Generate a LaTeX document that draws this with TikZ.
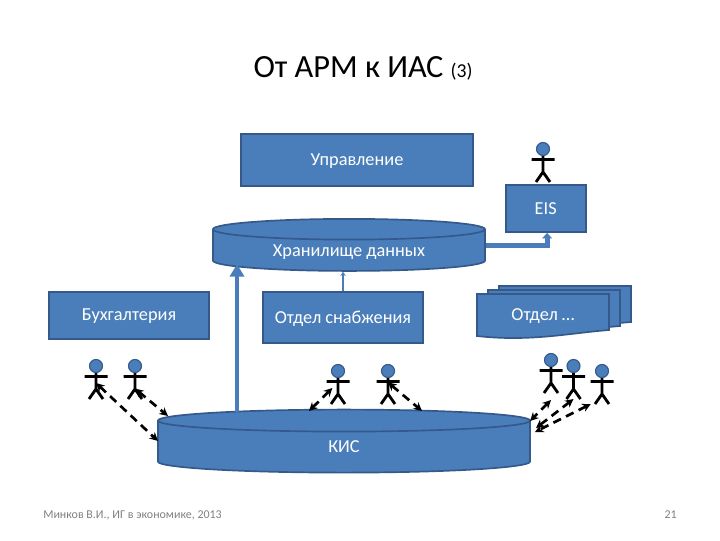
\documentclass[tikz,border=0pt]{standalone}
\usepackage{fontspec}
\setmainfont{Carlito}
\usepackage{xcolor}
\usepackage{tikz}
\usetikzlibrary{arrows.meta}
\usetikzlibrary{shapes.geometric}
\definecolor{blok}{HTML}{4A7EBB}
\definecolor{kant}{HTML}{34598A}
\begin{document}
\begin{tikzpicture}[
      x=0.025cm, y=-0.025cm,
      box/.style={draw=kant, line width=1.2pt, fill=blok, text=white, font=\fontsize{13}{15}\selectfont, inner sep=0pt, text depth=0pt},
      bochka/.style={box, cylinder, shape border rotate=90, cylinder uses custom fill, cylinder body fill=blok, cylinder end fill=blok},
      svyaz/.style={{Stealth[length=6pt,width=6pt]}-{Stealth[length=6pt,width=6pt]}, line width=1.9pt, dash pattern=on 6pt off 4pt},
      actor/.pic={
        \draw[black, line width=2pt] (-11.5,10.5) -- (11.5,10.5) (0,6) -- (0,23) (-7,33) -- (0,23) -- (7,33);
        \fill[blok] (0,0) circle (6.5);
        \draw[kant, line width=0.8pt] (0,0) circle (6.5);
        \coordinate (-hip) at (0,17);
        \coordinate (-feet) at (0,33);
      }
    ]
    \useasboundingbox (0,0) rectangle (720,540);

    % Заголовок
    \node (title) at (363,68) {\fontsize{23}{27}\selectfont От АРМ к ИАС {\fontsize{14}{16}\selectfont (3)}};

    % Блоки
    \node[box, minimum width=5.8cm, minimum height=1.3cm] (upr) at (357,160) {Управление};
    \node[box, minimum width=2cm, minimum height=1.175cm] (eis) at (545.7,208.5) {EIS};
    \node[box, minimum width=4cm, minimum height=1.175cm, text depth=2pt] (buh) at (129,315.7) {Бухгалтерия};
    \node[box, minimum width=4cm, minimum height=1.275cm] (snab) at (343,317.7) {Отдел снабжения};

    % Стопка документов
    \foreach \dx/\dy in {22/-8, 11/-4, 0/0}
      \draw[draw=kant, line width=1.2pt, fill=blok, shift={(\dx,\dy)}]
        (477,294) -- (609,294) -- (609,330) .. controls (570,333) and (530,342) .. (477,336) -- cycle;
    \node[text=white, font=\fontsize{13}{15}\selectfont, inner sep=0pt] (otdel) at (543,316) {Отдел …};

    % Хранилище и КИС
    \node[bochka, minimum width=6.8cm, minimum height=1.3cm, aspect=0.136] (db) at (349,250.5) {Хранилище данных};
    \node[bochka, minimum width=9.3cm, minimum height=1.575cm, aspect=0.7] (kis) at (344,447) {КИС};

    % Связи между блоками
    \coordinate (kisup) at (237,412);
    \coordinate (dbdown) at (237,264);
    \draw[-{Triangle[length=9pt,width=10pt]}, blok, line width=3.4pt] (kisup) -- (dbdown);
    \draw[-{Stealth[length=3pt,width=4pt]}, blok, line width=1pt] (snab.north) -- (snab.north |- db.south);
    \draw[-{Triangle[length=4pt,width=7pt]}, blok, line width=3.4pt] ([yshift=3.5pt]db.east) -| ([xshift=1pt]eis.south);

    % Пользователи
    \foreach \nm/\x/\y in {a1/96/366, a2/135/366, a3/338/371, a4/388/371, a5/551/360, a6/573.5/366, a7/602/371, a8/543/149}
      \pic (\nm) at (\x,\y) {actor};

    % Концы связей на КИС
    \foreach \nm/\x/\y in {k1/158/441, k2/168/416, k3/309/411, k4/422/411, k5/530/421, k6/536/428, k7/535/432}
      \coordinate (\nm) at (\x,\y);

    \draw[svyaz] (a1-hip) -- (k1);
    \draw[svyaz] ([yshift=-4pt]a2-hip) -- (k2);
    \draw[svyaz] ([xshift=-4pt]a3-hip) -- (k3);
    \draw[svyaz] ([yshift=4pt]a4-hip) -- (k4);
    \draw[svyaz] ([yshift=-5pt]a5-feet) -- (k5);
    \draw[svyaz] (a6-feet) -- (k6);
    \draw[svyaz] ([xshift=-8pt]a7-feet) -- (k7);

    % Подвал
    \node[text=gray, font=\fontsize{8.5}{10}\selectfont, anchor=west, inner sep=0pt] (foot) at (43,515) {Минков В.И., ИГ в экономике, 2013};
    \node[text=gray, font=\fontsize{8.5}{10}\selectfont, anchor=east, inner sep=0pt] (num) at (677,515) {21};
  \end{tikzpicture}
\end{document}
